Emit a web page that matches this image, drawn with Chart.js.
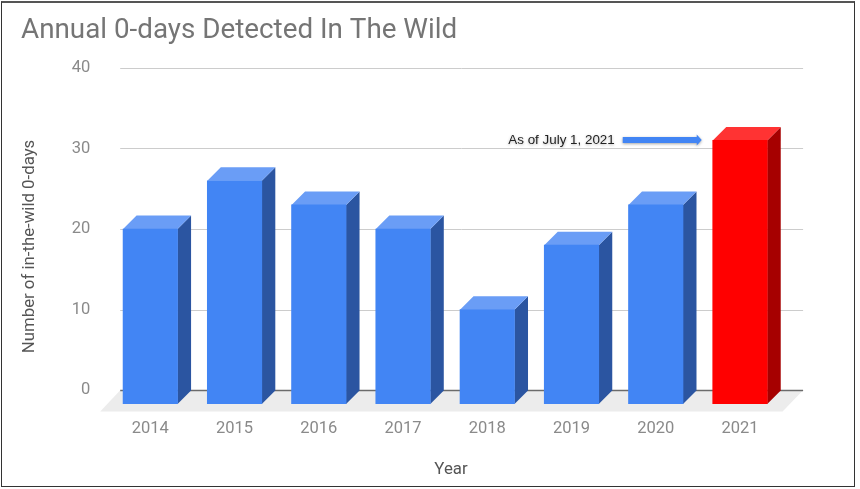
<!DOCTYPE html>
<html>
<head>
<meta charset="utf-8">
<script src="https://cdn.jsdelivr.net/npm/chart.js@4/dist/chart.umd.min.js"></script>
<style>
  html, body { margin: 0; padding: 0; background: #fff; }
  #wrap { position: relative; width: 860px; height: 489px; overflow: hidden; }
  #chart { filter: blur(0.35px); }
  #frame { position: absolute; left: 1px; top: 1px; width: 852px; height: 483px; border: 1px solid #333; border-top: 2px solid #555; pointer-events: none; }
</style>
</head>
<body>
<div id="wrap">
  <canvas id="chart" width="860" height="489"></canvas>
  <div id="frame"></div>
</div>
<script>
const years = ['2014', '2015', '2016', '2017', '2018', '2019', '2020', '2021'];
const zeroDays = [20, 26, 23, 20, 10, 18, 23, 31];
const yTicks = [0, 10, 20, 30, 40];
const annotationText = 'As of July 1, 2021';
const xTitle = 'Year';
const yTitle = 'Number of in-the-wild 0-days';

const DEPTH = 13.5;
const FLOOR = -1.7; // front edge of the 3D floor, in axis units

const faceColors = { blue: ['#4285f4', '#2b55a1', '#6a9df6'], red: ['#ff0000', '#a60000', '#ff3333'] };
const colorsFor = i => (years[i] === '2021' ? faceColors.red : faceColors.blue);

function poly(ctx, pts, fill) {
  ctx.beginPath();
  pts.forEach((p, i) => (i ? ctx.lineTo(p[0], p[1]) : ctx.moveTo(p[0], p[1])));
  ctx.closePath();
  ctx.fillStyle = fill;
  ctx.fill();
}

const pseudo3d = {
  id: 'pseudo3d',
  beforeDatasetsDraw(chart) {
    const { ctx, chartArea: a, scales: { y } } = chart;
    const zero = y.getPixelForValue(0);
    const backL = a.left + 12, backR = a.right + 21;
    // floor
    poly(ctx, [[backL, zero], [backR, zero], [a.right + 0.5, a.bottom + 7.5], [a.left - 8, a.bottom + 7.5]], '#ececec');
    // grid lines sit on the back wall
    yTicks.forEach(t => {
      const py = Math.round(y.getPixelForValue(t)) + 0.5;
      ctx.beginPath();
      ctx.moveTo(backL, py);
      ctx.lineTo(backR, py);
      ctx.lineWidth = t === 0 ? 1.5 : 1;
      ctx.strokeStyle = t === 0 ? '#6b6b6b' : '#cccccc';
      ctx.stroke();
    });
    // side and top faces behind each front face
    chart.getDatasetMeta(0).data.forEach((bar, i) => {
      const p = bar.getProps(['x', 'y', 'base', 'width'], true);
      const l = p.x - p.width / 2, r = p.x + p.width / 2;
      const c = colorsFor(i);
      poly(ctx, [[r, p.y], [r + DEPTH, p.y - DEPTH], [r + DEPTH, p.base - DEPTH], [r, p.base]], c[1]);
      poly(ctx, [[l, p.y], [l + DEPTH, p.y - DEPTH], [r + DEPTH, p.y - DEPTH], [r, p.y]], c[2]);
    });
  },
  afterDatasetsDraw(chart) {
    const { ctx } = chart;
    const last = chart.getDatasetMeta(0).data[years.length - 1];
    const tipX = last.x - last.width / 2 - 11;
    const midY = last.y - 0.5;
    ctx.save();
    ctx.shadowColor = 'rgba(0,0,0,0.35)';
    ctx.shadowBlur = 3;
    ctx.shadowOffsetY = 1;
    poly(ctx, [
      [tipX - 79, midY - 3], [tipX - 5, midY - 3], [tipX - 5, midY - 5.5],
      [tipX, midY], [tipX - 5, midY + 5.5], [tipX - 5, midY + 3], [tipX - 79, midY + 3]
    ], '#4285f4');
    ctx.font = '13.4px "Liberation Sans"';
    ctx.fillStyle = '#222';
    ctx.textAlign = 'right';
    ctx.textBaseline = 'middle';
    ctx.shadowColor = 'rgba(0,0,0,0.3)';
    ctx.fillText(annotationText, tipX - 87, midY);
    ctx.restore();

    // axis titles are off-centre in the original, so place them by hand
    ctx.save();
    ctx.font = '16.8px Roboto';
    ctx.fillStyle = '#555';
    ctx.textAlign = 'center';
    ctx.textBaseline = 'middle';
    ctx.fillText(xTitle, 451, 469.5);
    ctx.translate(29.5, 246.5);
    ctx.rotate(-Math.PI / 2);
    ctx.fillText(yTitle, 0, 0);
    ctx.restore();
  }
};

new Chart(document.getElementById('chart'), {
  type: 'bar',
  plugins: [pseudo3d],
  data: {
    labels: years,
    datasets: [{
      data: zeroDays,
      base: FLOOR,
      backgroundColor: years.map((_, i) => colorsFor(i)[0]),
      barThickness: 54.5,
      borderWidth: 0
    }]
  },
  options: {
    responsive: false,
    animation: false,
    layout: { padding: { left: 21, right: 77.9, top: 0, bottom: 10 } },
    plugins: {
      legend: { display: false },
      tooltip: { enabled: false },
      title: {
        display: true,
        text: 'Annual 0-days Detected In The Wild',
        align: 'start',
        color: '#757575',
        font: { family: 'Roboto', size: 27.8, weight: 'normal' },
        padding: { top: 14, bottom: 20.5 }
      }
    },
    scales: {
      x: {
        grid: { display: false },
        border: { display: false },
        afterFit(scale) { scale.height = 75; },
        ticks: { color: '#8a8a8a', padding: 7, font: { family: 'Roboto', size: 16.5 }, maxRotation: 0 }
      },
      y: {
        min: FLOOR,
        max: 40,
        grid: { display: false },
        border: { display: false },
        afterBuildTicks(scale) { scale.ticks = yTicks.map(value => ({ value })); },
        afterFit(scale) { scale.width = 87.2; },
        ticks: { color: '#8a8a8a', padding: 10, font: { family: 'Roboto', size: 16.5 } }
      }
    }
  }
});
</script>
</body>
</html>
